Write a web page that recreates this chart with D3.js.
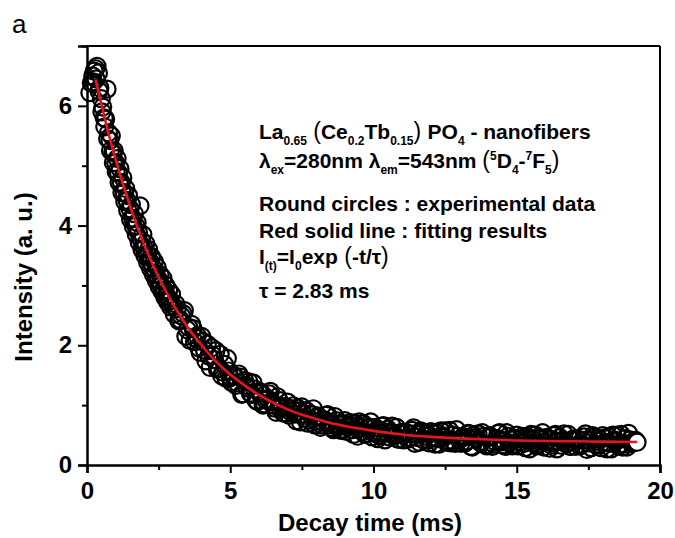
<!DOCTYPE html>
<html><head><meta charset="utf-8">
<script src="https://cdn.jsdelivr.net/npm/d3@7/dist/d3.min.js"></script>
<style>
html,body{margin:0;padding:0;background:#fff;}
svg text{font-family:"Liberation Sans",Arial,sans-serif;}
</style></head>
<body>
<svg id="chart" width="675" height="538"></svg>
<script>
// ---- data ----
const timeEarly = [0.10,0.15,0.20,0.25,0.30,0.35,0.40,0.45,0.50,0.55,0.60,0.65,0.70,0.75,0.80,0.85,0.90,0.95,1.00,1.05,1.10,1.15,1.20,1.25,1.30,1.35,1.40,1.45,1.50,1.55,1.60,1.65,1.70,1.75,1.80,1.85,1.90,1.95,2.00,2.05,2.10,2.15,2.20,2.25,2.30,2.35,2.40,2.45,2.50,2.55,2.60,2.65,2.70,2.75,2.80,2.85,2.90,2.95,3.00];
const intensityEarly = [6.22,6.38,6.50,6.58,6.62,6.66,6.55,6.30,6.12,5.98,5.80,5.78,6.28,5.55,5.42,5.50,5.22,5.25,5.05,5.12,4.88,4.95,4.72,4.80,4.55,4.62,4.42,4.50,4.28,4.35,4.12,4.20,4.00,4.05,3.88,4.33,3.75,3.85,3.62,3.70,3.52,3.60,3.40,3.48,3.30,3.40,3.20,3.30,3.10,3.18,3.00,3.12,2.92,3.00,2.82,2.92,2.75,2.85,2.66];
const timeEarlyLow = [0.22,0.32,0.42,0.52,0.62,0.72,0.82,0.92,1.02,1.12,1.22,1.32,1.42,1.52,1.62,1.72,1.82,1.92,2.02,2.12,2.22,2.32,2.42,2.52,2.62,2.72,2.82,2.92];
const intensityEarlyLow = [6.40,6.45,6.25,5.90,5.65,5.45,5.25,5.05,4.90,4.72,4.55,4.40,4.25,4.10,3.98,3.85,3.72,3.60,3.50,3.38,3.28,3.18,3.08,2.98,2.90,2.80,2.72,2.64];
const timeLate = [3.1,3.2,3.3,3.4,3.5,3.6,3.7,3.8,3.9,4.0,
 4.1,4.2,4.3,4.4,4.5,4.6,4.7,4.8,4.9,5.0,
 5.1,5.2,5.3,5.4,5.5,5.6,5.7,5.8,5.9,6.0,
 6.1,6.2,6.3,6.4,6.5,6.6,6.7,6.8,6.9,7.0,
 7.1,7.2,7.3,7.4,7.5,7.6,7.7,7.8,7.9,8.0,
 8.1,8.2,8.3,8.4,8.5,8.6,8.7,8.8,8.9,9.0,
 9.1,9.2,9.3,9.4,9.5,9.6,9.7,9.8,9.9,10.0,
 10.1,10.2,10.3,10.4,10.5,10.6,10.7,10.8,10.9,11.0,
 11.1,11.2,11.3,11.4,11.5,11.6,11.7,11.8,11.9,12.0,
 12.1,12.2,12.3,12.4,12.5,12.6,12.7,12.8,12.9,13.0,
 13.1,13.2,13.3,13.4,13.5,13.6,13.7,13.8,13.9,14.0,
 14.1,14.2,14.3,14.4,14.5,14.6,14.7,14.8,14.9,15.0,
 15.1,15.2,15.3,15.4,15.5,15.6,15.7,15.8,15.9,16.0,
 16.1,16.2,16.3,16.4,16.5,16.6,16.7,16.8,16.9,17.0,
 17.1,17.2,17.3,17.4,17.5,17.6,17.7,17.8,17.9,18.0,
 18.1,18.2,18.3,18.4,18.5,18.6,18.7,18.8,18.9,19.0,19.1,19.2];
const intensityLate = [2.69,2.41,2.49,2.58,2.26,2.08,2.28,2.12,1.96,2.15,
 1.92,2.02,1.63,1.83,1.91,1.62,1.49,1.68,1.78,1.46,
 1.49,1.33,1.52,1.18,1.41,1.29,1.20,1.37,1.08,1.21,
 1.20,1.02,1.11,1.23,1.00,0.88,1.08,0.98,0.87,1.05,
 0.89,0.99,0.74,0.90,0.97,0.78,0.70,0.85,0.94,0.73,
 0.80,0.67,0.75,0.84,0.67,0.59,0.74,0.67,0.60,0.74,
 0.63,0.71,0.51,0.65,0.72,0.56,0.51,0.63,0.72,0.54,
 0.58,0.49,0.65,0.42,0.60,0.54,0.49,0.63,0.43,0.54,
 0.55,0.43,0.52,0.62,0.46,0.38,0.54,0.48,0.42,0.56,
 0.46,0.54,0.35,0.49,0.57,0.41,0.37,0.50,0.59,0.42,
 0.46,0.37,0.53,0.31,0.50,0.44,0.39,0.54,0.34,0.46,
 0.47,0.35,0.44,0.54,0.39,0.31,0.48,0.42,0.35,0.50,
 0.39,0.48,0.29,0.44,0.51,0.36,0.32,0.45,0.54,0.38,
 0.42,0.33,0.49,0.27,0.46,0.40,0.36,0.51,0.31,0.43,
 0.44,0.32,0.41,0.52,0.37,0.29,0.46,0.40,0.34,0.49,
 0.38,0.47,0.27,0.42,0.50,0.35,0.30,0.44,0.53,0.36,0.40,0.38];
const timeMid = [3.05,3.15,3.25,3.35,3.45,3.55,3.65,3.75,3.85,3.95,
 4.05,4.15,4.25,4.35,4.45,4.55,4.65,4.75,4.85,4.95,
 5.05,5.15,5.25,5.35,5.45,5.55,5.65,5.75,5.85,5.95,
 6.05,6.15,6.25,6.35,6.45,6.55,6.65,6.75,6.85,6.95,
 7.05,7.15,7.25,7.35,7.45,7.55,7.65,7.75,7.85,7.95,
 8.05,8.15,8.25,8.35,8.45,8.55,8.65,8.75,8.85,8.95,
 9.05,9.15,9.25,9.35,9.45,9.55,9.65,9.75,9.85,9.95,
 10.05,10.15,10.25,10.35,10.45,10.55,10.65,10.75,10.85,10.95,
 11.05,11.15,11.25,11.35,11.45,11.55,11.65,11.75,11.85,11.95,
 12.05,12.15,12.25,12.35,12.45,12.55,12.65,12.75,12.85,12.95,
 13.05,13.15,13.25,13.35,13.45,13.55,13.65,13.75,13.85,13.95,
 14.05,14.15,14.25,14.35,14.45,14.55,14.65,14.75,14.85,14.95,
 15.05,15.15,15.25,15.35,15.45,15.55,15.65,15.75,15.85,15.95,
 16.05,16.15,16.25,16.35,16.45,16.55,16.65,16.75,16.85,16.95,
 17.05,17.15,17.25,17.35,17.45,17.55,17.65,17.75,17.85,17.95,
 18.05,18.15,18.25,18.35,18.45,18.55,18.65,18.75,18.85,18.95,19.05,19.15];
const intensityMid = [2.52,2.61,2.43,2.53,2.15,2.30,2.35,2.06,2.16,1.88,
 2.06,1.74,1.82,1.96,1.76,1.60,1.85,1.55,1.45,1.57,
 1.38,1.49,1.37,1.47,1.19,1.33,1.39,1.18,1.27,1.06,
 1.22,1.00,1.08,1.19,1.06,0.95,1.14,0.94,0.87,0.97,
 0.83,0.94,0.85,0.95,0.72,0.85,0.91,0.75,0.84,0.67,
 0.82,0.63,0.71,0.83,0.71,0.62,0.81,0.63,0.58,0.69,
 0.56,0.67,0.59,0.70,0.48,0.62,0.69,0.53,0.63,0.47,
 0.63,0.44,0.53,0.66,0.55,0.47,0.65,0.49,0.43,0.54,
 0.42,0.53,0.46,0.58,0.36,0.51,0.57,0.42,0.53,0.37,
 0.53,0.35,0.44,0.57,0.46,0.38,0.58,0.41,0.36,0.48,
 0.36,0.47,0.40,0.52,0.30,0.45,0.52,0.37,0.48,0.32,
 0.49,0.31,0.39,0.53,0.42,0.34,0.54,0.37,0.32,0.44,
 0.32,0.44,0.36,0.48,0.27,0.42,0.50,0.35,0.45,0.30,
 0.46,0.28,0.37,0.51,0.40,0.33,0.52,0.36,0.31,0.43,
 0.31,0.42,0.35,0.47,0.26,0.41,0.49,0.34,0.44,0.29,
 0.45,0.27,0.36,0.50,0.39,0.32,0.51,0.35,0.30,0.42,0.37,0.41];
const fitTime  = [0.3,0.5,0.75,1,1.5,2,2.5,3,3.5,4,4.5,5,5.5,6,6.5,7,7.5,8,8.5,9,9.5,10,11,12,13,14,15,16,17,18,19.2];
const fitValue = [6.44,6.03,5.54,5.10,4.33,3.68,3.14,2.69,2.31,2.00,1.73,1.51,1.33,1.17,1.04,0.93,0.84,0.77,0.70,0.65,0.61,0.57,0.51,0.47,0.445,0.425,0.41,0.40,0.396,0.39,0.385];
const xMajorTicks = [0,5,10,15,20];
const xMinorTicks = [2.5,7.5,12.5,17.5];
const yMajorTicks = [0,2,4,6];
const yMinorTicks = [1,3,5,7];
const xTitle = "Decay time (ms)";
const yTitle = "Intensity (a. u.)";
const panelLabel = "a";
// annotation lines: [text, kind]  kind: n normal, b sub, p sup, o paren
const noteLines = [
  [["La","n"],["0.65","b"],[" (","o"],["Ce","n"],["0.2","b"],["Tb","n"],["0.15","b"],[") ","o"],["PO","n"],["4","b"],[" - nanofibers","n"]],
  [["λ","n"],["ex","b"],["=280nm  λ","n"],["em","b"],["=543nm ","n"],[" (","o"],["5","p"],["D","n"],["4","b"],["-","n"],["7","p"],["F","n"],["5","b"],[")","o"]],
  [["Round circles : experimental data","n"]],
  [["Red solid line : fitting results","n"]],
  [["I","n"],["(t)","b"],["=I","n"],["0","b"],["exp","n"],[" (","o"],["-t/τ","n"],[")","o"]],
  [["τ = 2.83 ms","n"]]
];
const noteBaselines = [139,168,211,238,264,298];

// ---- drawing ----
const svg = d3.select("#chart");
const x = d3.scaleLinear().domain([0,20]).range([87,660]);
const y = d3.scaleLinear().domain([0,7]).range([465,46]);

const points = timeEarly.map((t,i)=>({t, v:intensityEarly[i]}))
  .concat(timeEarlyLow.map((t,i)=>({t, v:intensityEarlyLow[i]})))
  .concat(timeLate.map((t,i)=>({t, v:intensityLate[i]})))
  .concat(timeMid.map((t,i)=>({t, v:intensityMid[i]})))
  .sort((a,b)=>a.t-b.t);
const lastT = d3.max(points, d=>d.t);

// frame top / right
svg.append("line").attr("x1",x(0)).attr("x2",x(20)).attr("y1",y(7)).attr("y2",y(7))
  .attr("stroke","#000").attr("stroke-width",2);
svg.append("line").attr("x1",x(20)).attr("x2",x(20)).attr("y1",y(7)).attr("y2",y(0)+5)
  .attr("stroke","#000").attr("stroke-width",2);

// scatter
svg.append("g").selectAll("circle").data(points).join("circle")
  .attr("cx",d=>x(d.t)).attr("cy",d=>y(d.v)).attr("r",8.5)
  .attr("fill",d=>d.t===lastT?"#fff":"none").attr("stroke","#000").attr("stroke-width",2.2);

// fit line
const line = d3.line().x((d,i)=>x(fitTime[i])).y(d=>y(d)).curve(d3.curveMonotoneX);
svg.append("path").attr("d",line(fitValue)).attr("fill","none")
  .attr("stroke","#e8141b").attr("stroke-width",2.6);

// axes
svg.append("g").attr("transform",`translate(0,${y(0)})`)
  .call(d3.axisBottom(x).tickValues(xMajorTicks).tickSize(8).tickPadding(9).tickFormat(d3.format("d")));
svg.append("g").attr("transform",`translate(0,${y(0)})`)
  .call(d3.axisBottom(x).tickValues(xMinorTicks).tickSize(5).tickFormat(""))
  .select(".domain").remove();
svg.append("g").attr("transform",`translate(${x(0)},0)`)
  .call(d3.axisLeft(y).tickValues(yMajorTicks).tickSize(9).tickPadding(6).tickFormat(d3.format("d")));
svg.append("g").attr("transform",`translate(${x(0)},0)`)
  .call(d3.axisLeft(y).tickValues(yMinorTicks).tickSize(5).tickFormat(""))
  .select(".domain").remove();
svg.selectAll(".domain").attr("stroke-width",2.5);
svg.selectAll(".tick line").attr("stroke-width",2);
svg.selectAll(".tick text").attr("font-size",24).attr("font-weight","bold")
  .attr("font-family","'Liberation Sans',Arial,sans-serif").attr("fill","#000");

// titles
svg.append("text").attr("x",370).attr("y",531).attr("text-anchor","middle")
  .attr("font-size",24).attr("font-weight","bold").text(xTitle);
svg.append("text").attr("transform","translate(32,277) rotate(-90)").attr("text-anchor","middle")
  .attr("font-size",24).attr("font-weight","bold").text(yTitle);
svg.append("text").attr("x",12).attr("y",33).attr("font-size",26).text(panelLabel);

// annotation
const note = svg.append("g");
noteLines.forEach((segs,i)=>{
  const tx = note.append("text").attr("x",259).attr("y",noteBaselines[i])
    .attr("font-size",21).attr("font-weight","bold");
  let off = 0;
  segs.forEach(([s,k])=>{
    const ts = tx.append("tspan").text(s);
    let dy = 0;
    if(k==="b"){ ts.attr("font-size",12); dy = 6; }
    else if(k==="p"){ ts.attr("font-size",12); dy = -8; }
    else if(k==="o"){ ts.attr("font-weight","normal").attr("font-size",23); }
    ts.attr("dy", dy - off);
    off = dy;
  });
});
</script>
</body></html>
